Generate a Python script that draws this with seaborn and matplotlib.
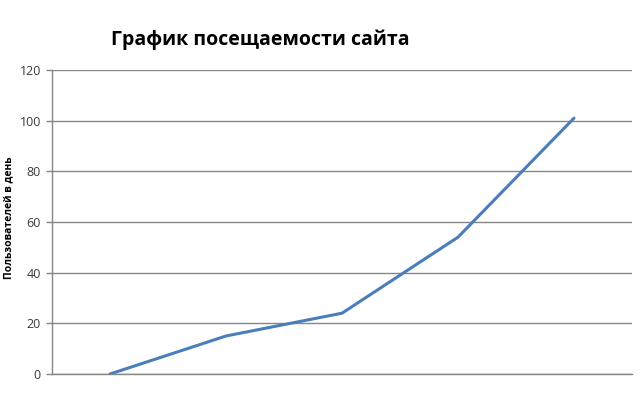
import numpy as np
import pandas as pd
import matplotlib
matplotlib.use("Agg")
import matplotlib.pyplot as plt
import seaborn as sns

# Data
days = ["1", "2", "3", "4", "5"]
visitors = [0, 15, 24, 54, 101]
y_ticks = [0, 20, 40, 60, 80, 100, 120]

title = "График посещаемости сайта"
y_label = "Пользователей в день"

sns.set_style("white")
plt.rcParams["font.family"] = ["Open Sans", "DejaVu Sans"]

df = pd.DataFrame({"day": days, "visitors": visitors})

fig = plt.figure(figsize=(6.4, 4.19), dpi=100)
ax = fig.add_axes([0.08125, 0.1074, 0.90625, 0.7256])

sns.lineplot(data=df, x="day", y="visitors", ax=ax, color="#4a7ebb",
             linewidth=2.2, sort=False)

ax.set_xlim(-0.5, len(days) - 0.5)
ax.set_ylim(0, 120)
ax.set_yticks(y_ticks)
ax.set_xticks([])
ax.set_xlabel("")
ax.set_ylabel("")
ax.tick_params(axis="y", labelsize=9, colors="#868686", labelcolor="#3a3a3a",
               length=4, width=1, left=True, pad=4)

ax.grid(axis="y", color="#868686", linewidth=1)
ax.set_axisbelow(True)
for side in ["top", "right"]:
    ax.spines[side].set_visible(False)
for side in ["left", "bottom"]:
    ax.spines[side].set_color("#868686")
    ax.spines[side].set_linewidth(1)

fig.text(0.014, 0.48, y_label, rotation=90, ha="center", va="center",
         fontsize=7.5, fontweight="bold", color="#000000")
fig.text(0.406, 0.905, title, ha="center", va="center",
         fontsize=14, fontweight="bold", color="#000000")

fig.savefig("out.png", dpi=100)
